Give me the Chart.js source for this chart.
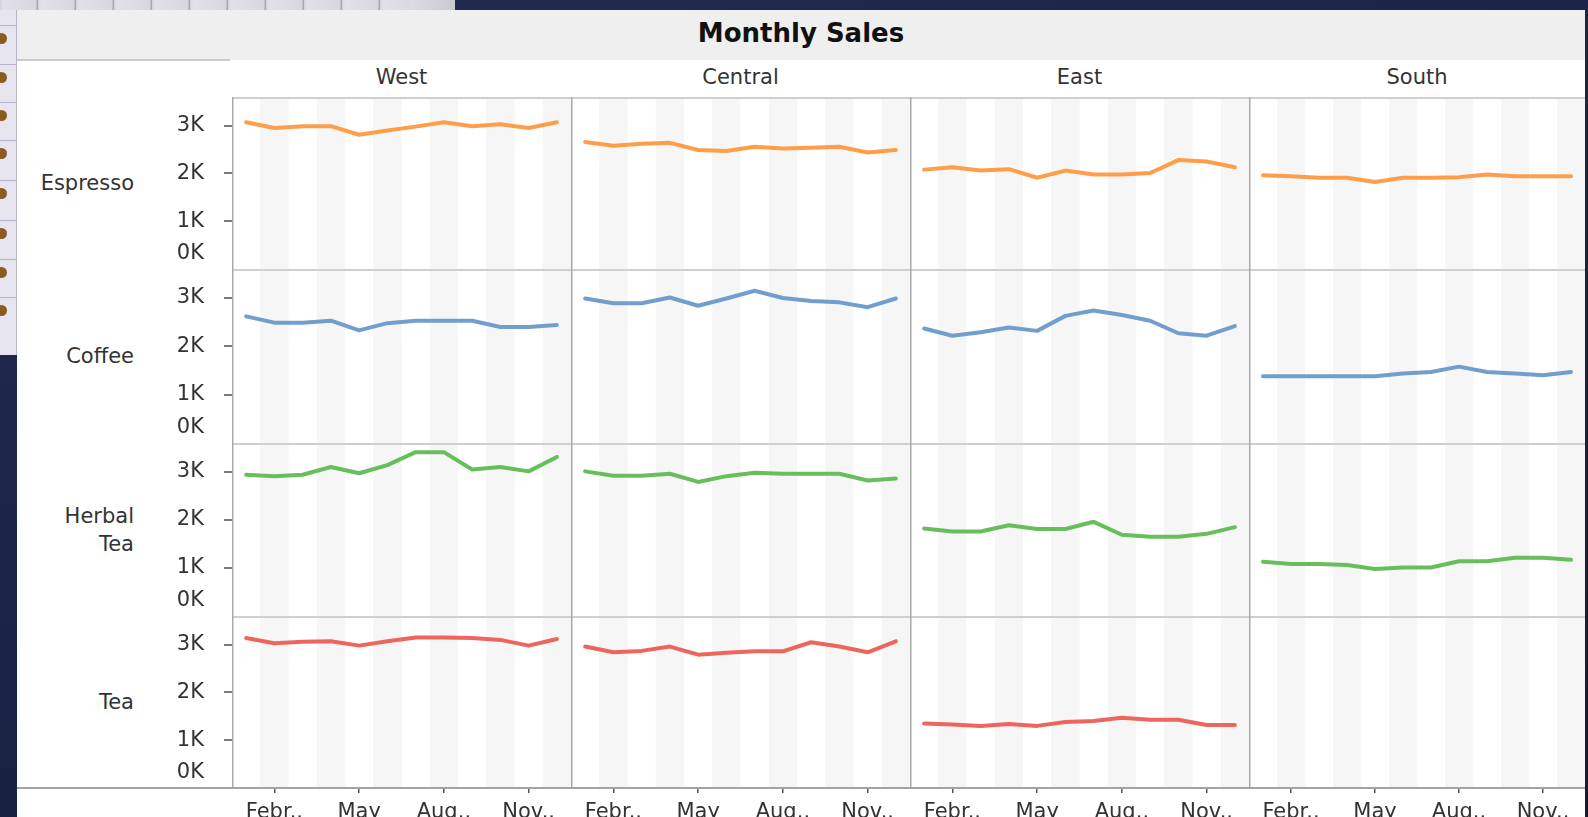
<!DOCTYPE html>
<html>
<head>
<meta charset="utf-8">
<script src="https://cdn.jsdelivr.net/npm/chart.js@4.4.1/dist/chart.umd.min.js"></script>
<style>
  html, body { margin:0; padding:0; width:1588px; height:817px; overflow:hidden;
    background: linear-gradient(160deg, #222c52 0%, #1a2244 55%, #141b36 100%);
    font-family: 'DejaVu Sans', sans-serif; }
  #stage { position:relative; width:1588px; height:817px; }
  .abs { position:absolute; }
  #toolbar { left:0; top:0; width:455px; height:10px;
    background: repeating-linear-gradient(90deg, #d4d3dc 0px, #e2e1e8 3px, #d8d7df 36px, #a9a8b4 37px, #a9a8b4 38px);
  }
  #toolbarEnd { left:410px; top:0; width:45px; height:10px; background: linear-gradient(90deg,#dcdce2,#c9c9d0); }
  #strip { left:0; top:10px; width:17px; height:345px; background:#e6e4ee; border-right:1px solid #b9b6cc; box-sizing:border-box; }
  .dot { position:absolute; left:-4px; width:11px; height:11px; border-radius:50%; background:#8c5a1e; }
  .sep { position:absolute; left:0; width:17px; height:1px; background:#b7b3d0; }
  #panel { left:17px; top:10px; width:1568px; height:807px; background:#ffffff; }
  #titleBand { left:17px; top:10px; width:1568px; height:50px; background:#efefef; }
  #title { left:17px; top:18px; width:1568px; text-align:center; font-weight:bold; font-size:26px; line-height:30px; color:#111; }
  #hdrLine { left:17px; top:59px; width:213px; height:2px; background:#cbcbcb; }
  #bottomLine { left:17px; top:787px; width:1568px; height:2px; background:#a3a3a3; }
  .colHdr { position:absolute; top:64px; font-size:21px; line-height:26px; color:#333; text-align:center; }
  .rowHdr { position:absolute; left:17px; width:117px; font-size:21px; line-height:28px; color:#333; text-align:right; }
  .cell { position:absolute; }
</style>
</head>
<body>
<div id="stage">
  <div id="toolbar" class="abs"></div>
  <div id="toolbarEnd" class="abs"></div>
  <div id="strip" class="abs"></div>
  <div id="panel" class="abs"></div>
  <div id="titleBand" class="abs"></div>
  <div id="title" class="abs">Monthly Sales</div>
  <div id="hdrLine" class="abs"></div>
</div>
<script>
// ---------------- DATA ----------------
const months = ['January','February','March','April','May','June','July','August','September','October','November','December'];
const xTickIndex = [1, 4, 7, 10];
const xTickLabels = ['Febr..', 'May', 'Aug..', 'Nov..'];
const yTickValues = [0, 1000, 2000, 3000];
const yTickLabels = ['0K', '1K', '2K', '3K'];
const regions = ['West', 'Central', 'East', 'South'];
const products = ['Espresso', 'Coffee', 'Herbal Tea', 'Tea'];

// each product: [West, Central, East, South]
const espresso = [
  [3070, 2950, 2990, 2990, 2810, 2900, 2980, 3070, 2990, 3030, 2950, 3070],
  [2660, 2580, 2620, 2640, 2490, 2470, 2560, 2520, 2540, 2560, 2440, 2490],
  [2080, 2130, 2060, 2090, 1910, 2060, 1980, 1980, 2010, 2280, 2250, 2130],
  [1960, 1940, 1910, 1910, 1820, 1910, 1910, 1920, 1980, 1940, 1940, 1940]
];
const coffee = [
  [2620, 2490, 2490, 2530, 2330, 2480, 2530, 2530, 2530, 2400, 2400, 2440],
  [2990, 2890, 2890, 3010, 2840, 2990, 3150, 3000, 2940, 2910, 2810, 2990],
  [2370, 2220, 2290, 2390, 2320, 2630, 2740, 2650, 2530, 2270, 2220, 2420],
  [1380, 1380, 1380, 1380, 1380, 1440, 1470, 1580, 1470, 1440, 1400, 1470]
];
const herbalTea = [
  [2940, 2910, 2940, 3100, 2970, 3140, 3410, 3410, 3050, 3100, 3010, 3310],
  [3010, 2920, 2920, 2960, 2790, 2910, 2980, 2960, 2960, 2960, 2820, 2860],
  [1820, 1760, 1760, 1890, 1810, 1810, 1960, 1690, 1650, 1650, 1710, 1850],
  [1130, 1080, 1080, 1060, 980, 1010, 1010, 1140, 1140, 1210, 1210, 1170]
];
const tea = [
  [3140, 3030, 3060, 3070, 2980, 3070, 3150, 3150, 3140, 3100, 2980, 3120],
  [2960, 2840, 2870, 2960, 2790, 2830, 2860, 2860, 3050, 2960, 2840, 3070],
  [1350, 1330, 1300, 1340, 1300, 1380, 1400, 1470, 1430, 1430, 1320, 1320],
  []
];
const seriesByProduct = [espresso, coffee, herbalTea, tea];
const productColors = ['#FF9E4A', '#729ECE', '#67BF5C', '#ED665D'];

// ---------------- LAYOUT ----------------
const colEdges = [232, 571, 910, 1249, 1585];
const rowEdges = [97, 269, 443, 616, 788];
const stageBottom = 817;
const yAxisLeft = 140;
const yMax = 3600;
const yTickLen = 8, yTickPad = 20;

Chart.defaults.font.family = "'DejaVu Sans', sans-serif";
Chart.defaults.color = '#333';

const stage = document.getElementById('stage');

// background window strip decorations
const strip = document.getElementById('strip');
[23, 62, 100, 138, 178, 218, 257, 295].forEach((y) => {
  const d = document.createElement('div'); d.className = 'dot'; d.style.top = y + 'px'; strip.appendChild(d);
  const s = document.createElement('div'); s.className = 'sep'; s.style.top = (y - 8) + 'px'; strip.appendChild(s);
});

// headers
regions.forEach((name, c) => {
  const d = document.createElement('div');
  d.className = 'colHdr';
  d.style.left = colEdges[c] + 'px';
  d.style.width = (colEdges[c + 1] - colEdges[c]) + 'px';
  d.textContent = name;
  stage.appendChild(d);
});
products.forEach((name, r) => {
  const d = document.createElement('div');
  d.className = 'rowHdr';
  const words = name.split(' ');
  d.innerHTML = words.join('<br>');
  const h = words.length * 28;
  d.style.top = ((rowEdges[r] + rowEdges[r + 1]) / 2 - h / 2) + 'px';
  stage.appendChild(d);
});

const cellPlugin = {
  id: 'cell',
  beforeDraw(chart) {
    const { ctx, chartArea: a, scales: { x } } = chart;
    const bw = a.width / months.length;
    ctx.save();
    ctx.fillStyle = '#f6f6f6';
    months.forEach((m, i) => {
      if (i % 2 === 1) {
        const cx = x.getPixelForValue(i);
        ctx.fillRect(cx - bw / 2, a.top, bw, a.height);
      }
    });
    ctx.restore();
  },
  afterDraw(chart, args, opts) {
    const { ctx, chartArea: a } = chart;
    ctx.save();
    ctx.strokeStyle = '#cfcfcf';
    ctx.lineWidth = 2;
    ctx.beginPath(); ctx.moveTo(a.left, a.top + 1); ctx.lineTo(a.right, a.top + 1); ctx.stroke();
    ctx.strokeStyle = '#a9a9a9';
    ctx.lineWidth = 1.5;
    ctx.beginPath(); ctx.moveTo(a.left + 0.75, a.top); ctx.lineTo(a.left + 0.75, a.bottom); ctx.stroke();
    if (opts.zero) {
      const y = chart.scales.y;
      ctx.font = "21px 'DejaVu Sans'";
      ctx.fillStyle = '#333';
      ctx.textAlign = 'right';
      ctx.textBaseline = 'middle';
      ctx.fillText(yTickLabels[0], y.right - yTickLen - yTickPad, y.getPixelForValue(0) - 15);
    }
    ctx.restore();
  }
};

function makeCell(r, c) {
  const left = c === 0 ? yAxisLeft : colEdges[c];
  const right = colEdges[c + 1];
  const top = rowEdges[r];
  const bottom = r === 3 ? stageBottom : rowEdges[r + 1];
  const w = right - left, h = bottom - top;
  const wrap = document.createElement('div');
  wrap.className = 'cell';
  wrap.style.left = left + 'px'; wrap.style.top = top + 'px';
  wrap.style.width = w + 'px'; wrap.style.height = h + 'px';
  const cv = document.createElement('canvas');
  cv.width = w; cv.height = h;
  cv.style.width = w + 'px'; cv.style.height = h + 'px';
  wrap.appendChild(cv);
  stage.appendChild(wrap);

  const values = seriesByProduct[r][c];
  const datasets = values.length ? [{
    data: values,
    borderColor: productColors[r],
    borderWidth: 4,
    pointRadius: 0,
    tension: 0,
    fill: false,
    borderJoinStyle: 'round',
    borderCapStyle: 'round'
  }] : [];

  const showX = r === products.length - 1;
  const showY = c === 0;

  new Chart(cv, {
    type: 'line',
    data: { labels: months, datasets },
    plugins: [cellPlugin],
    options: {
      responsive: false,
      animation: false,
      events: [],
      layout: { padding: 0 },
      plugins: { legend: { display: false }, tooltip: { enabled: false }, cell: { zero: showY } },
      scales: {
        x: {
          type: 'category',
          offset: true,
          display: showX,
          grid: {
            offset: false, drawOnChartArea: false, drawTicks: true, tickLength: 5, lineWidth: 1.5,
            color: ctx => xTickIndex.includes(ctx.index) ? '#555' : 'rgba(0,0,0,0)'
          },
          border: { display: true, color: '#8f8f8f', width: 2 },
          ticks: {
            autoSkip: false, maxRotation: 0, minRotation: 0, padding: 7, color: '#333',
            font: { size: 21 },
            callback: (v, i) => { const k = xTickIndex.indexOf(i); return k < 0 ? '' : xTickLabels[k]; }
          },
          afterFit: s => { if (showX) { s.height = stageBottom - rowEdges[rowEdges.length - 1]; } else { s.height = 0; } s.paddingLeft = 0; s.paddingRight = 0; }
        },
        y: {
          min: 0, max: yMax,
          display: showY,
          afterBuildTicks: s => { s.ticks = yTickValues.map(v => ({ value: v })); },
          grid: {
            drawOnChartArea: false, drawTicks: true, tickLength: yTickLen, lineWidth: 2,
            color: ctx => (ctx.tick && ctx.tick.value === 0) ? 'rgba(0,0,0,0)' : '#7a7a7a'
          },
          border: { display: false },
          ticks: {
            padding: yTickPad, color: '#333', font: { size: 21 },
            callback: (v) => v === 0 ? '' : yTickLabels[yTickValues.indexOf(v)]
          },
          afterFit: s => { s.width = showY ? colEdges[0] - yAxisLeft : 0; s.paddingTop = 0; s.paddingBottom = 0; }
        }
      }
    }
  });
}

for (let r = 0; r < products.length; r++) {
  for (let c = 0; c < regions.length; c++) makeCell(r, c);
}

const bl = document.createElement('div');
bl.id = 'bottomLine'; bl.className = 'abs';
stage.appendChild(bl);
</script>
</body>
</html>
